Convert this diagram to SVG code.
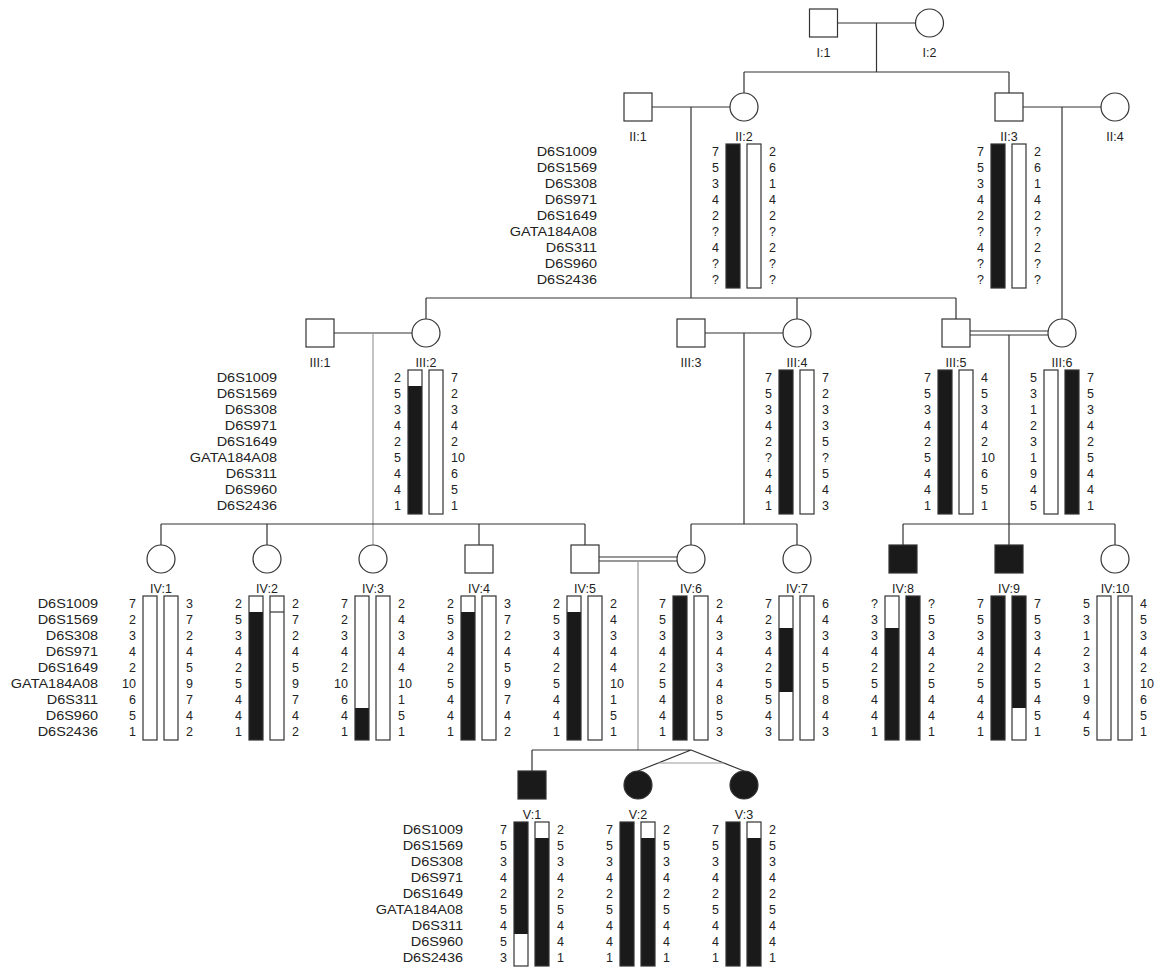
<svg xmlns="http://www.w3.org/2000/svg" width="1161" height="969" viewBox="0 0 1161 969">
<style>
text{font-family:"Liberation Sans",Arial,sans-serif;font-size:12.5px;fill:#222}
.e{text-anchor:end}.m{text-anchor:middle}
.ln{stroke:#333;stroke-width:1.2;fill:none}
.lg{stroke:#999;stroke-width:1.2;fill:none}
.sym{fill:#fff;stroke:#333;stroke-width:1.2}
.aff{fill:#1a1a1a;stroke:#333;stroke-width:1.2}
.bar{fill:none;stroke:#333;stroke-width:1.2}
.blk{fill:#1a1a1a}
</style>
<rect width="1161" height="969" fill="#fff"/>
<g id="connectors">
<path class="ln" d="M837.5 23H915.5M876.5 23V72M744 72H1009M744 72V93M1009 72V93"/>
<path class="ln" d="M652 107H730M691 107V298M1023 107H1101M1062 107V319"/>
<path class="ln" d="M426 298H956M426 298V319M797 298V319M956 298V319"/>
<path class="ln" d="M334 333H412"/>
<path class="lg" d="M373 333V545"/>
<path class="ln" d="M161 524H585M161 524V545M267 524V545M479 524V545M585 524V545"/>
<path class="ln" d="M705 333H783M744 333V524M691 524H797M691 524V545M797 524V545"/>
<path class="ln" d="M970 331H1048M970 335H1048M1009 335V545M903 524H1115M903 524V545M1115 524V545"/>
<path class="ln" d="M599 557H677M599 561H677"/>
<path class="lg" d="M638 561V750"/>
<path class="ln" d="M532 750H691M532 750V771M691 750L638 771M691 750L744 771"/>
<path class="lg" d="M658 763H724"/>
</g>
<g id="markersII" transform="translate(597 0) scale(1.16 1)"><text class="e"><tspan x="0" y="156.3">D6S1009</tspan><tspan x="0" dy="16">D6S1569</tspan><tspan x="0" dy="16">D6S308</tspan><tspan x="0" dy="16">D6S971</tspan><tspan x="0" dy="16">D6S1649</tspan><tspan x="0" dy="16">GATA184A08</tspan><tspan x="0" dy="16">D6S311</tspan><tspan x="0" dy="16">D6S960</tspan><tspan x="0" dy="16">D6S2436</tspan></text></g>
<g id="markersIII" transform="translate(277 0) scale(1.16 1)"><text class="e"><tspan x="0" y="382.3">D6S1009</tspan><tspan x="0" dy="16">D6S1569</tspan><tspan x="0" dy="16">D6S308</tspan><tspan x="0" dy="16">D6S971</tspan><tspan x="0" dy="16">D6S1649</tspan><tspan x="0" dy="16">GATA184A08</tspan><tspan x="0" dy="16">D6S311</tspan><tspan x="0" dy="16">D6S960</tspan><tspan x="0" dy="16">D6S2436</tspan></text></g>
<g id="markersIV" transform="translate(98 0) scale(1.16 1)"><text class="e"><tspan x="0" y="608.3">D6S1009</tspan><tspan x="0" dy="16">D6S1569</tspan><tspan x="0" dy="16">D6S308</tspan><tspan x="0" dy="16">D6S971</tspan><tspan x="0" dy="16">D6S1649</tspan><tspan x="0" dy="16">GATA184A08</tspan><tspan x="0" dy="16">D6S311</tspan><tspan x="0" dy="16">D6S960</tspan><tspan x="0" dy="16">D6S2436</tspan></text></g>
<g id="markersV" transform="translate(463 0) scale(1.16 1)"><text class="e"><tspan x="0" y="834.3">D6S1009</tspan><tspan x="0" dy="16">D6S1569</tspan><tspan x="0" dy="16">D6S308</tspan><tspan x="0" dy="16">D6S971</tspan><tspan x="0" dy="16">D6S1649</tspan><tspan x="0" dy="16">GATA184A08</tspan><tspan x="0" dy="16">D6S311</tspan><tspan x="0" dy="16">D6S960</tspan><tspan x="0" dy="16">D6S2436</tspan></text></g>

<g id="I1"><rect class="sym" x="809.5" y="9" width="28" height="28"/><text class="m" x="823.5" y="56.5">I:1</text></g>
<g id="I2"><circle class="sym" cx="929.5" cy="23" r="14"/><text class="m" x="929.5" y="56.5">I:2</text></g>

<g id="II1"><rect class="sym" x="624" y="93" width="28" height="28"/><text class="m" x="638" y="140.5">II:1</text></g>
<g id="II2"><circle class="sym" cx="744" cy="107" r="14"/><text class="m" x="744" y="140.5">II:2</text>
<rect class="blk" x="726" y="144" width="14" height="144"/><rect class="bar" x="726" y="144" width="14" height="144"/><rect class="bar" x="747" y="144" width="14" height="144"/>
<text class="e"><tspan x="719" y="156.3">7</tspan><tspan x="719" dy="16">5</tspan><tspan x="719" dy="16">3</tspan><tspan x="719" dy="16">4</tspan><tspan x="719" dy="16">2</tspan><tspan x="719" dy="16">?</tspan><tspan x="719" dy="16">4</tspan><tspan x="719" dy="16">?</tspan><tspan x="719" dy="16">?</tspan></text>
<text><tspan x="769" y="156.3">2</tspan><tspan x="769" dy="16">6</tspan><tspan x="769" dy="16">1</tspan><tspan x="769" dy="16">4</tspan><tspan x="769" dy="16">2</tspan><tspan x="769" dy="16">?</tspan><tspan x="769" dy="16">2</tspan><tspan x="769" dy="16">?</tspan><tspan x="769" dy="16">?</tspan></text></g>
<g id="II3"><rect class="sym" x="995" y="93" width="28" height="28"/><text class="m" x="1009" y="140.5">II:3</text>
<rect class="blk" x="991" y="144" width="14" height="144"/><rect class="bar" x="991" y="144" width="14" height="144"/><rect class="bar" x="1012" y="144" width="14" height="144"/>
<text class="e"><tspan x="984" y="156.3">7</tspan><tspan x="984" dy="16">5</tspan><tspan x="984" dy="16">3</tspan><tspan x="984" dy="16">4</tspan><tspan x="984" dy="16">2</tspan><tspan x="984" dy="16">?</tspan><tspan x="984" dy="16">4</tspan><tspan x="984" dy="16">?</tspan><tspan x="984" dy="16">?</tspan></text>
<text><tspan x="1034" y="156.3">2</tspan><tspan x="1034" dy="16">6</tspan><tspan x="1034" dy="16">1</tspan><tspan x="1034" dy="16">4</tspan><tspan x="1034" dy="16">2</tspan><tspan x="1034" dy="16">?</tspan><tspan x="1034" dy="16">2</tspan><tspan x="1034" dy="16">?</tspan><tspan x="1034" dy="16">?</tspan></text></g>
<g id="II4"><circle class="sym" cx="1115" cy="107" r="14"/><text class="m" x="1115" y="140.5">II:4</text></g>

<g id="III1"><rect class="sym" x="306" y="319" width="28" height="28"/><text class="m" x="320" y="366.5">III:1</text></g>
<g id="III2"><circle class="sym" cx="426" cy="333" r="14"/><text class="m" x="426" y="366.5">III:2</text>
<rect class="blk" x="408" y="386" width="14" height="128"/><rect class="bar" x="408" y="370" width="14" height="144"/><rect class="bar" x="429" y="370" width="14" height="144"/>
<text class="e"><tspan x="401" y="382.3">2</tspan><tspan x="401" dy="16">5</tspan><tspan x="401" dy="16">3</tspan><tspan x="401" dy="16">4</tspan><tspan x="401" dy="16">2</tspan><tspan x="401" dy="16">5</tspan><tspan x="401" dy="16">4</tspan><tspan x="401" dy="16">4</tspan><tspan x="401" dy="16">1</tspan></text>
<text><tspan x="451" y="382.3">7</tspan><tspan x="451" dy="16">2</tspan><tspan x="451" dy="16">3</tspan><tspan x="451" dy="16">4</tspan><tspan x="451" dy="16">2</tspan><tspan x="451" dy="16">10</tspan><tspan x="451" dy="16">6</tspan><tspan x="451" dy="16">5</tspan><tspan x="451" dy="16">1</tspan></text></g>
<g id="III3"><rect class="sym" x="677" y="319" width="28" height="28"/><text class="m" x="691" y="366.5">III:3</text></g>
<g id="III4"><circle class="sym" cx="797" cy="333" r="14"/><text class="m" x="797" y="366.5">III:4</text>
<rect class="blk" x="779" y="370" width="14" height="144"/><rect class="bar" x="779" y="370" width="14" height="144"/><rect class="bar" x="800" y="370" width="14" height="144"/>
<text class="e"><tspan x="772" y="382.3">7</tspan><tspan x="772" dy="16">5</tspan><tspan x="772" dy="16">3</tspan><tspan x="772" dy="16">4</tspan><tspan x="772" dy="16">2</tspan><tspan x="772" dy="16">?</tspan><tspan x="772" dy="16">4</tspan><tspan x="772" dy="16">4</tspan><tspan x="772" dy="16">1</tspan></text>
<text><tspan x="822" y="382.3">7</tspan><tspan x="822" dy="16">2</tspan><tspan x="822" dy="16">3</tspan><tspan x="822" dy="16">3</tspan><tspan x="822" dy="16">5</tspan><tspan x="822" dy="16">?</tspan><tspan x="822" dy="16">5</tspan><tspan x="822" dy="16">4</tspan><tspan x="822" dy="16">3</tspan></text></g>
<g id="III5"><rect class="sym" x="942" y="319" width="28" height="28"/><text class="m" x="956" y="366.5">III:5</text>
<rect class="blk" x="938" y="370" width="14" height="144"/><rect class="bar" x="938" y="370" width="14" height="144"/><rect class="bar" x="959" y="370" width="14" height="144"/>
<text class="e"><tspan x="931" y="382.3">7</tspan><tspan x="931" dy="16">5</tspan><tspan x="931" dy="16">3</tspan><tspan x="931" dy="16">4</tspan><tspan x="931" dy="16">2</tspan><tspan x="931" dy="16">5</tspan><tspan x="931" dy="16">4</tspan><tspan x="931" dy="16">4</tspan><tspan x="931" dy="16">1</tspan></text>
<text><tspan x="981" y="382.3">4</tspan><tspan x="981" dy="16">5</tspan><tspan x="981" dy="16">3</tspan><tspan x="981" dy="16">4</tspan><tspan x="981" dy="16">2</tspan><tspan x="981" dy="16">10</tspan><tspan x="981" dy="16">6</tspan><tspan x="981" dy="16">5</tspan><tspan x="981" dy="16">1</tspan></text></g>
<g id="III6"><circle class="sym" cx="1062" cy="333" r="14"/><text class="m" x="1062" y="366.5">III:6</text>
<rect class="blk" x="1065" y="370" width="14" height="144"/><rect class="bar" x="1044" y="370" width="14" height="144"/><rect class="bar" x="1065" y="370" width="14" height="144"/>
<text class="e"><tspan x="1037" y="382.3">5</tspan><tspan x="1037" dy="16">3</tspan><tspan x="1037" dy="16">1</tspan><tspan x="1037" dy="16">2</tspan><tspan x="1037" dy="16">3</tspan><tspan x="1037" dy="16">1</tspan><tspan x="1037" dy="16">9</tspan><tspan x="1037" dy="16">4</tspan><tspan x="1037" dy="16">5</tspan></text>
<text><tspan x="1087" y="382.3">7</tspan><tspan x="1087" dy="16">5</tspan><tspan x="1087" dy="16">3</tspan><tspan x="1087" dy="16">4</tspan><tspan x="1087" dy="16">2</tspan><tspan x="1087" dy="16">5</tspan><tspan x="1087" dy="16">4</tspan><tspan x="1087" dy="16">4</tspan><tspan x="1087" dy="16">1</tspan></text></g>

<g id="IV1"><circle class="sym" cx="161" cy="559" r="14"/><text class="m" x="161" y="592.5">IV:1</text>
<rect class="bar" x="143" y="596" width="14" height="144"/><rect class="bar" x="164" y="596" width="14" height="144"/>
<text class="e"><tspan x="136" y="608.3">7</tspan><tspan x="136" dy="16">2</tspan><tspan x="136" dy="16">3</tspan><tspan x="136" dy="16">4</tspan><tspan x="136" dy="16">2</tspan><tspan x="136" dy="16">10</tspan><tspan x="136" dy="16">6</tspan><tspan x="136" dy="16">5</tspan><tspan x="136" dy="16">1</tspan></text>
<text><tspan x="186" y="608.3">3</tspan><tspan x="186" dy="16">7</tspan><tspan x="186" dy="16">2</tspan><tspan x="186" dy="16">4</tspan><tspan x="186" dy="16">5</tspan><tspan x="186" dy="16">9</tspan><tspan x="186" dy="16">7</tspan><tspan x="186" dy="16">4</tspan><tspan x="186" dy="16">2</tspan></text></g>
<g id="IV2"><circle class="sym" cx="267" cy="559" r="14"/><text class="m" x="267" y="592.5">IV:2</text>
<rect class="blk" x="249" y="612" width="14" height="128"/><rect class="bar" x="249" y="596" width="14" height="144"/><rect class="bar" x="270" y="596" width="14" height="144"/><path class="bar" d="M270 612H284"/>
<text class="e"><tspan x="242" y="608.3">2</tspan><tspan x="242" dy="16">5</tspan><tspan x="242" dy="16">3</tspan><tspan x="242" dy="16">4</tspan><tspan x="242" dy="16">2</tspan><tspan x="242" dy="16">5</tspan><tspan x="242" dy="16">4</tspan><tspan x="242" dy="16">4</tspan><tspan x="242" dy="16">1</tspan></text>
<text><tspan x="292" y="608.3">2</tspan><tspan x="292" dy="16">7</tspan><tspan x="292" dy="16">2</tspan><tspan x="292" dy="16">4</tspan><tspan x="292" dy="16">5</tspan><tspan x="292" dy="16">9</tspan><tspan x="292" dy="16">7</tspan><tspan x="292" dy="16">4</tspan><tspan x="292" dy="16">2</tspan></text></g>
<g id="IV3"><circle class="sym" cx="373" cy="559" r="14"/><text class="m" x="373" y="592.5">IV:3</text>
<rect class="blk" x="355" y="708" width="14" height="32"/><rect class="bar" x="355" y="596" width="14" height="144"/><rect class="bar" x="376" y="596" width="14" height="144"/>
<text class="e"><tspan x="348" y="608.3">7</tspan><tspan x="348" dy="16">2</tspan><tspan x="348" dy="16">3</tspan><tspan x="348" dy="16">4</tspan><tspan x="348" dy="16">2</tspan><tspan x="348" dy="16">10</tspan><tspan x="348" dy="16">6</tspan><tspan x="348" dy="16">4</tspan><tspan x="348" dy="16">1</tspan></text>
<text><tspan x="398" y="608.3">2</tspan><tspan x="398" dy="16">4</tspan><tspan x="398" dy="16">3</tspan><tspan x="398" dy="16">4</tspan><tspan x="398" dy="16">4</tspan><tspan x="398" dy="16">10</tspan><tspan x="398" dy="16">1</tspan><tspan x="398" dy="16">5</tspan><tspan x="398" dy="16">1</tspan></text></g>
<g id="IV4"><rect class="sym" x="465" y="545" width="28" height="28"/><text class="m" x="479" y="592.5">IV:4</text>
<rect class="blk" x="461" y="612" width="14" height="128"/><rect class="bar" x="461" y="596" width="14" height="144"/><rect class="bar" x="482" y="596" width="14" height="144"/>
<text class="e"><tspan x="454" y="608.3">2</tspan><tspan x="454" dy="16">5</tspan><tspan x="454" dy="16">3</tspan><tspan x="454" dy="16">4</tspan><tspan x="454" dy="16">2</tspan><tspan x="454" dy="16">5</tspan><tspan x="454" dy="16">4</tspan><tspan x="454" dy="16">4</tspan><tspan x="454" dy="16">1</tspan></text>
<text><tspan x="504" y="608.3">3</tspan><tspan x="504" dy="16">7</tspan><tspan x="504" dy="16">2</tspan><tspan x="504" dy="16">4</tspan><tspan x="504" dy="16">5</tspan><tspan x="504" dy="16">9</tspan><tspan x="504" dy="16">7</tspan><tspan x="504" dy="16">4</tspan><tspan x="504" dy="16">2</tspan></text></g>
<g id="IV5"><rect class="sym" x="571" y="545" width="28" height="28"/><text class="m" x="585" y="592.5">IV:5</text>
<rect class="blk" x="567" y="612" width="14" height="128"/><rect class="bar" x="567" y="596" width="14" height="144"/><rect class="bar" x="588" y="596" width="14" height="144"/>
<text class="e"><tspan x="560" y="608.3">2</tspan><tspan x="560" dy="16">5</tspan><tspan x="560" dy="16">3</tspan><tspan x="560" dy="16">4</tspan><tspan x="560" dy="16">2</tspan><tspan x="560" dy="16">5</tspan><tspan x="560" dy="16">4</tspan><tspan x="560" dy="16">4</tspan><tspan x="560" dy="16">1</tspan></text>
<text><tspan x="610" y="608.3">2</tspan><tspan x="610" dy="16">4</tspan><tspan x="610" dy="16">3</tspan><tspan x="610" dy="16">4</tspan><tspan x="610" dy="16">4</tspan><tspan x="610" dy="16">10</tspan><tspan x="610" dy="16">1</tspan><tspan x="610" dy="16">5</tspan><tspan x="610" dy="16">1</tspan></text></g>
<g id="IV6"><circle class="sym" cx="691" cy="559" r="14"/><text class="m" x="691" y="592.5">IV:6</text>
<rect class="blk" x="673" y="596" width="14" height="144"/><rect class="bar" x="673" y="596" width="14" height="144"/><rect class="bar" x="694" y="596" width="14" height="144"/>
<text class="e"><tspan x="666" y="608.3">7</tspan><tspan x="666" dy="16">5</tspan><tspan x="666" dy="16">3</tspan><tspan x="666" dy="16">4</tspan><tspan x="666" dy="16">2</tspan><tspan x="666" dy="16">5</tspan><tspan x="666" dy="16">4</tspan><tspan x="666" dy="16">4</tspan><tspan x="666" dy="16">1</tspan></text>
<text><tspan x="716" y="608.3">2</tspan><tspan x="716" dy="16">4</tspan><tspan x="716" dy="16">3</tspan><tspan x="716" dy="16">4</tspan><tspan x="716" dy="16">3</tspan><tspan x="716" dy="16">4</tspan><tspan x="716" dy="16">8</tspan><tspan x="716" dy="16">5</tspan><tspan x="716" dy="16">3</tspan></text></g>
<g id="IV7"><circle class="sym" cx="797" cy="559" r="14"/><text class="m" x="797" y="592.5">IV:7</text>
<rect class="blk" x="779" y="628" width="14" height="64"/><rect class="bar" x="779" y="596" width="14" height="144"/><rect class="bar" x="800" y="596" width="14" height="144"/>
<text class="e"><tspan x="772" y="608.3">7</tspan><tspan x="772" dy="16">2</tspan><tspan x="772" dy="16">3</tspan><tspan x="772" dy="16">4</tspan><tspan x="772" dy="16">2</tspan><tspan x="772" dy="16">5</tspan><tspan x="772" dy="16">5</tspan><tspan x="772" dy="16">4</tspan><tspan x="772" dy="16">3</tspan></text>
<text><tspan x="822" y="608.3">6</tspan><tspan x="822" dy="16">4</tspan><tspan x="822" dy="16">3</tspan><tspan x="822" dy="16">4</tspan><tspan x="822" dy="16">5</tspan><tspan x="822" dy="16">5</tspan><tspan x="822" dy="16">8</tspan><tspan x="822" dy="16">4</tspan><tspan x="822" dy="16">3</tspan></text></g>
<g id="IV8"><rect class="aff" x="889" y="545" width="28" height="28"/><text class="m" x="903" y="592.5">IV:8</text>
<rect class="blk" x="885" y="628" width="14" height="112"/><rect class="blk" x="906" y="596" width="14" height="144"/><rect class="bar" x="885" y="596" width="14" height="144"/><rect class="bar" x="906" y="596" width="14" height="144"/>
<text class="e"><tspan x="878" y="608.3">?</tspan><tspan x="878" dy="16">3</tspan><tspan x="878" dy="16">3</tspan><tspan x="878" dy="16">4</tspan><tspan x="878" dy="16">2</tspan><tspan x="878" dy="16">5</tspan><tspan x="878" dy="16">4</tspan><tspan x="878" dy="16">4</tspan><tspan x="878" dy="16">1</tspan></text>
<text><tspan x="928" y="608.3">?</tspan><tspan x="928" dy="16">5</tspan><tspan x="928" dy="16">3</tspan><tspan x="928" dy="16">4</tspan><tspan x="928" dy="16">2</tspan><tspan x="928" dy="16">5</tspan><tspan x="928" dy="16">4</tspan><tspan x="928" dy="16">4</tspan><tspan x="928" dy="16">1</tspan></text></g>
<g id="IV9"><rect class="aff" x="995" y="545" width="28" height="28"/><text class="m" x="1009" y="592.5">IV:9</text>
<rect class="blk" x="991" y="596" width="14" height="144"/><rect class="blk" x="1012" y="596" width="14" height="112"/><rect class="bar" x="991" y="596" width="14" height="144"/><rect class="bar" x="1012" y="596" width="14" height="144"/>
<text class="e"><tspan x="984" y="608.3">7</tspan><tspan x="984" dy="16">5</tspan><tspan x="984" dy="16">3</tspan><tspan x="984" dy="16">4</tspan><tspan x="984" dy="16">2</tspan><tspan x="984" dy="16">5</tspan><tspan x="984" dy="16">4</tspan><tspan x="984" dy="16">4</tspan><tspan x="984" dy="16">1</tspan></text>
<text><tspan x="1034" y="608.3">7</tspan><tspan x="1034" dy="16">5</tspan><tspan x="1034" dy="16">3</tspan><tspan x="1034" dy="16">4</tspan><tspan x="1034" dy="16">2</tspan><tspan x="1034" dy="16">5</tspan><tspan x="1034" dy="16">4</tspan><tspan x="1034" dy="16">5</tspan><tspan x="1034" dy="16">1</tspan></text></g>
<g id="IV10"><circle class="sym" cx="1115" cy="559" r="14"/><text class="m" x="1115" y="592.5">IV:10</text>
<rect class="bar" x="1097" y="596" width="14" height="144"/><rect class="bar" x="1118" y="596" width="14" height="144"/>
<text class="e"><tspan x="1090" y="608.3">5</tspan><tspan x="1090" dy="16">3</tspan><tspan x="1090" dy="16">1</tspan><tspan x="1090" dy="16">2</tspan><tspan x="1090" dy="16">3</tspan><tspan x="1090" dy="16">1</tspan><tspan x="1090" dy="16">9</tspan><tspan x="1090" dy="16">4</tspan><tspan x="1090" dy="16">5</tspan></text>
<text><tspan x="1140" y="608.3">4</tspan><tspan x="1140" dy="16">5</tspan><tspan x="1140" dy="16">3</tspan><tspan x="1140" dy="16">4</tspan><tspan x="1140" dy="16">2</tspan><tspan x="1140" dy="16">10</tspan><tspan x="1140" dy="16">6</tspan><tspan x="1140" dy="16">5</tspan><tspan x="1140" dy="16">1</tspan></text></g>

<g id="V1"><rect class="aff" x="518" y="771" width="28" height="28"/><text class="m" x="532" y="818.5">V:1</text>
<rect class="blk" x="514" y="822" width="14" height="112"/><rect class="blk" x="535" y="838" width="14" height="128"/><rect class="bar" x="514" y="822" width="14" height="144"/><rect class="bar" x="535" y="822" width="14" height="144"/>
<text class="e"><tspan x="507" y="834.3">7</tspan><tspan x="507" dy="16">5</tspan><tspan x="507" dy="16">3</tspan><tspan x="507" dy="16">4</tspan><tspan x="507" dy="16">2</tspan><tspan x="507" dy="16">5</tspan><tspan x="507" dy="16">4</tspan><tspan x="507" dy="16">5</tspan><tspan x="507" dy="16">3</tspan></text>
<text><tspan x="557" y="834.3">2</tspan><tspan x="557" dy="16">5</tspan><tspan x="557" dy="16">3</tspan><tspan x="557" dy="16">4</tspan><tspan x="557" dy="16">2</tspan><tspan x="557" dy="16">5</tspan><tspan x="557" dy="16">4</tspan><tspan x="557" dy="16">4</tspan><tspan x="557" dy="16">1</tspan></text></g>
<g id="V2"><circle class="aff" cx="638" cy="785" r="14"/><text class="m" x="638" y="818.5">V:2</text>
<rect class="blk" x="620" y="822" width="14" height="144"/><rect class="blk" x="641" y="838" width="14" height="128"/><rect class="bar" x="620" y="822" width="14" height="144"/><rect class="bar" x="641" y="822" width="14" height="144"/>
<text class="e"><tspan x="613" y="834.3">7</tspan><tspan x="613" dy="16">5</tspan><tspan x="613" dy="16">3</tspan><tspan x="613" dy="16">4</tspan><tspan x="613" dy="16">2</tspan><tspan x="613" dy="16">5</tspan><tspan x="613" dy="16">4</tspan><tspan x="613" dy="16">4</tspan><tspan x="613" dy="16">1</tspan></text>
<text><tspan x="663" y="834.3">2</tspan><tspan x="663" dy="16">5</tspan><tspan x="663" dy="16">3</tspan><tspan x="663" dy="16">4</tspan><tspan x="663" dy="16">2</tspan><tspan x="663" dy="16">5</tspan><tspan x="663" dy="16">4</tspan><tspan x="663" dy="16">4</tspan><tspan x="663" dy="16">1</tspan></text></g>
<g id="V3"><circle class="aff" cx="744" cy="785" r="14"/><text class="m" x="744" y="818.5">V:3</text>
<rect class="blk" x="726" y="822" width="14" height="144"/><rect class="blk" x="747" y="838" width="14" height="128"/><rect class="bar" x="726" y="822" width="14" height="144"/><rect class="bar" x="747" y="822" width="14" height="144"/>
<text class="e"><tspan x="719" y="834.3">7</tspan><tspan x="719" dy="16">5</tspan><tspan x="719" dy="16">3</tspan><tspan x="719" dy="16">4</tspan><tspan x="719" dy="16">2</tspan><tspan x="719" dy="16">5</tspan><tspan x="719" dy="16">4</tspan><tspan x="719" dy="16">4</tspan><tspan x="719" dy="16">1</tspan></text>
<text><tspan x="769" y="834.3">2</tspan><tspan x="769" dy="16">5</tspan><tspan x="769" dy="16">3</tspan><tspan x="769" dy="16">4</tspan><tspan x="769" dy="16">2</tspan><tspan x="769" dy="16">5</tspan><tspan x="769" dy="16">4</tspan><tspan x="769" dy="16">4</tspan><tspan x="769" dy="16">1</tspan></text></g>
</svg>
